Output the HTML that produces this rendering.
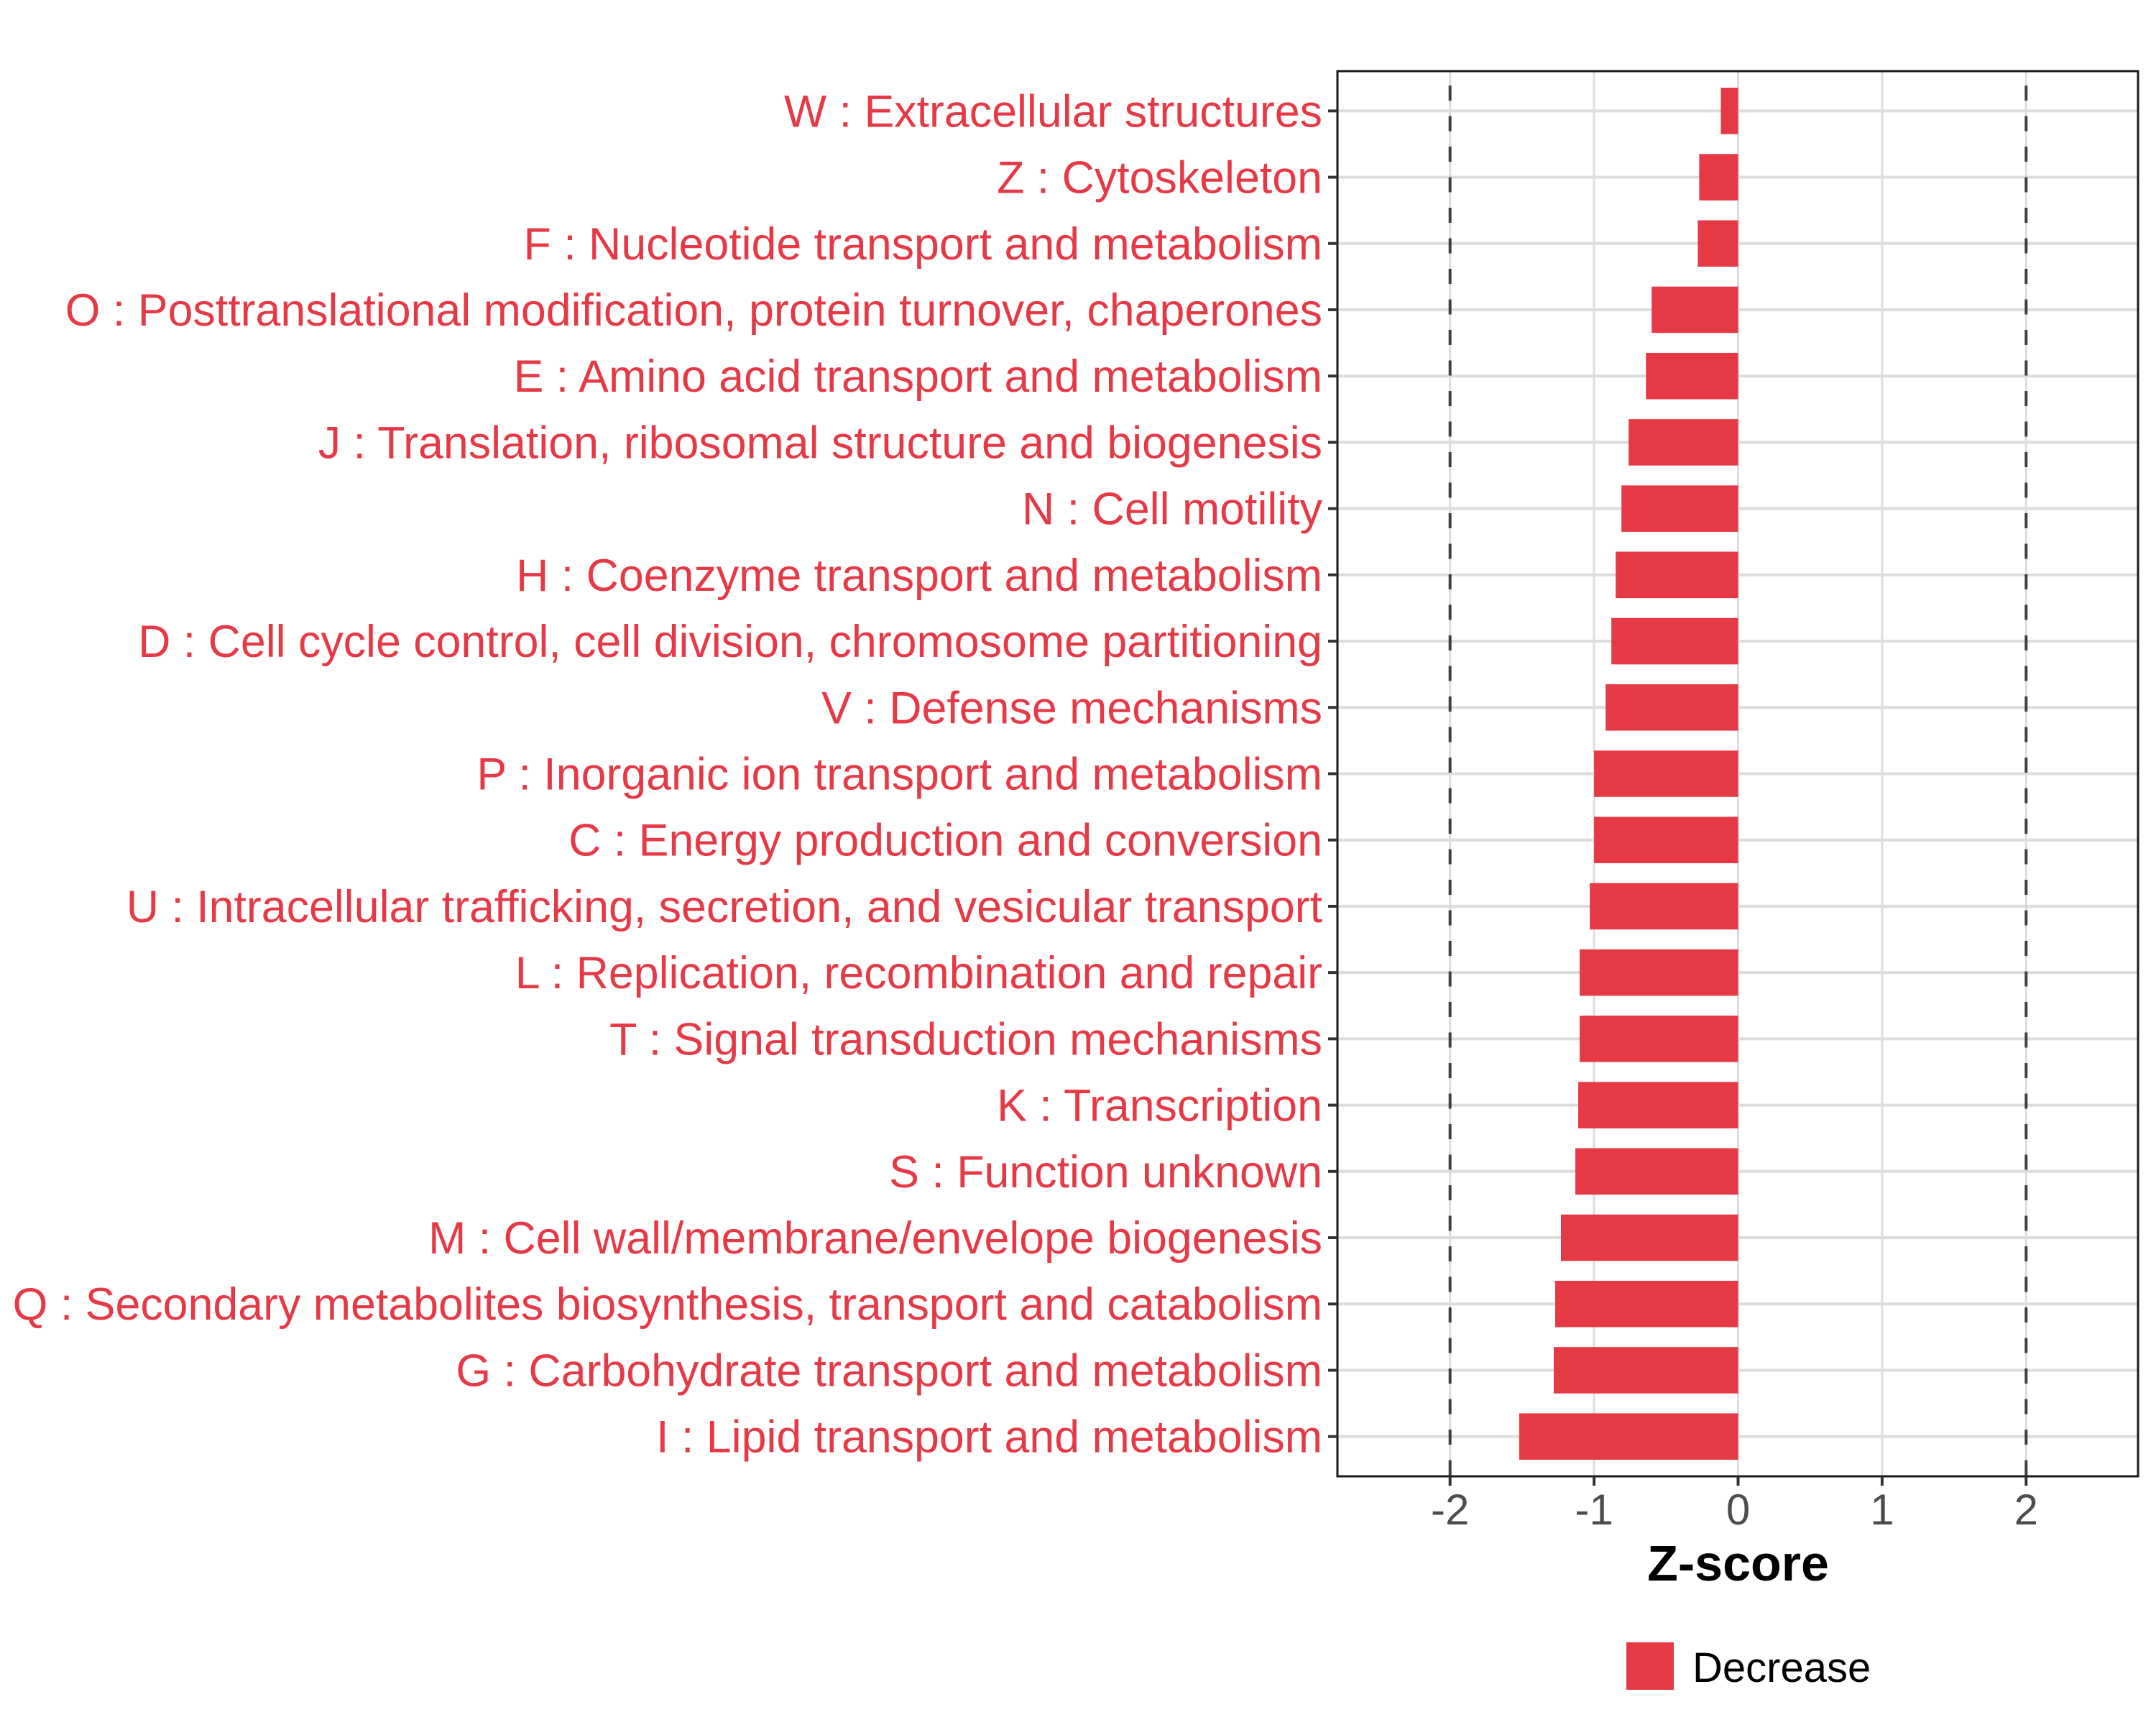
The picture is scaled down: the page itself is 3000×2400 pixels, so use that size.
<!DOCTYPE html>
<html><head><meta charset="utf-8"><style>
html,body{margin:0;padding:0;background:#fff;}
svg{display:block;font-family:"Liberation Sans",Arial,sans-serif;}
</style></head><body>
<svg id="chart" width="3000" height="2400" viewBox="0 0 3000 2400" xmlns="http://www.w3.org/2000/svg">
<g id="grid"></g>
<g id="bars"></g>
<g id="axes"></g>
</svg>
<script>
const categories = ["W : Extracellular structures","Z : Cytoskeleton","F : Nucleotide transport and metabolism","O : Posttranslational modification, protein turnover, chaperones","E : Amino acid transport and metabolism","J : Translation, ribosomal structure and biogenesis","N : Cell motility","H : Coenzyme transport and metabolism","D : Cell cycle control, cell division, chromosome partitioning","V : Defense mechanisms","P : Inorganic ion transport and metabolism","C : Energy production and conversion","U : Intracellular trafficking, secretion, and vesicular transport","L : Replication, recombination and repair","T : Signal transduction mechanisms","K : Transcription","S : Function unknown","M : Cell wall/membrane/envelope biogenesis","Q : Secondary metabolites biosynthesis, transport and catabolism","G : Carbohydrate transport and metabolism","I : Lipid transport and metabolism"];
const zscores = [-0.12,-0.27,-0.28,-0.60,-0.64,-0.76,-0.81,-0.85,-0.88,-0.92,-1.00,-1.00,-1.03,-1.10,-1.10,-1.11,-1.13,-1.23,-1.27,-1.28,-1.52];
const xTicks = [-2,-1,0,1,2];
const xTickLabels = ["-2","-1","0","1","2"];
const thresholds = [-2,2];

const NS="http://www.w3.org/2000/svg";
const P={l:1861,r:2975,t:99,b:2054};
const X0=2418.5,UNIT=200.4;
const xs=v=>X0+v*UNIT;
const n=categories.length;
const step=(P.b-P.t)/(n+0.2);
const ys=i=>P.t+step*(0.6+i);
const RED="#E63946";
function mk(tag,attrs,parent){const e=document.createElementNS(NS,tag);for(const k in attrs)e.setAttribute(k,attrs[k]);parent.appendChild(e);return e;}
const grid=document.getElementById('grid'),bars=document.getElementById('bars'),axes=document.getElementById('axes');

mk('rect',{x:P.l,y:P.t,width:P.r-P.l,height:P.b-P.t,fill:'#fff'},grid);
xTicks.forEach((t,i)=>{
  const l=mk('line',{x1:xs(t),x2:xs(t),y1:P.t,y2:P.b,stroke:'#dcdcdc','stroke-width':3},grid);
  
  
});
categories.forEach((c,i)=>{
  const l=mk('line',{x1:P.l,x2:P.r,y1:ys(i),y2:ys(i),stroke:'#dcdcdc','stroke-width':4},grid);
  
  
});
thresholds.forEach(t=>{
  const l=mk('line',{x1:xs(t),x2:xs(t),y1:P.t,y2:P.b,stroke:'#404040','stroke-width':4,'stroke-dasharray':'21 21.5','stroke-dashoffset':'-20'},grid);
  
  
});
const bh=step*0.7;
zscores.forEach((v,i)=>{
  const x0=xs(Math.min(0,v)),x1=xs(Math.max(0,v));
  const r=mk('rect',{x:x0,y:ys(i)-bh/2,width:x1-x0,height:bh,fill:RED},bars);
  
  
});
const border=mk('rect',{x:P.l,y:P.t,width:P.r-P.l,height:P.b-P.t,fill:'none',stroke:'#1a1a1a','stroke-width':3},axes);


categories.forEach((c,i)=>{
  mk('line',{x1:P.l-13,x2:P.l,y1:ys(i),y2:ys(i),stroke:'#333','stroke-width':4},axes);
  const t=mk('text',{x:P.l-21,y:ys(i)+22,'text-anchor':'end','font-size':62.7,fill:RED},axes);
  t.textContent=c;
  
  
});
xTicks.forEach((v,i)=>{
  mk('line',{x1:xs(v),x2:xs(v),y1:P.b,y2:P.b+13,stroke:'#333','stroke-width':4},axes);
  const t=mk('text',{x:xs(v),y:2121,'text-anchor':'middle','font-size':60,fill:'#4d4d4d'},axes);
  t.textContent=xTickLabels[i];
  
  
});
const xt=mk('text',{x:xs(0),y:2199,'text-anchor':'middle','font-size':70,'font-weight':'bold',fill:'#000'},axes);
xt.textContent='Z-score';


const lk=mk('rect',{x:2263,y:2285,width:66,height:66,fill:RED},axes);


const lt=mk('text',{x:2355,y:2340,'font-size':58,fill:'#000'},axes);
lt.textContent='Decrease';


</script>
</body></html>
